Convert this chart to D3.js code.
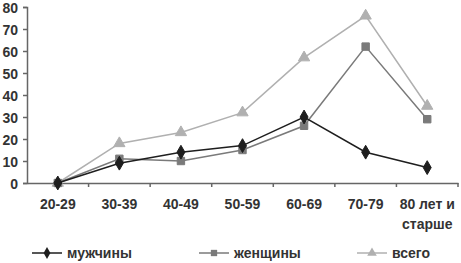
<!DOCTYPE html>
<html lang="ru">
<head>
<meta charset="UTF-8">
<script src="https://d3js.org/d3.v7.min.js"></script>
<style>
  body { margin: 0; background: #fff; }
  text { font-family: "Liberation Sans Narrow", "Arial Narrow", "Liberation Sans", sans-serif; font-weight: bold; fill: #333; }
</style>
</head>
<body>
<svg width="461" height="263"></svg>
<script>
// data
const categories = ["20-29", "30-39", "40-49", "50-59", "60-69", "70-79", "80 лет и|старше"];
const men   = [0, 9, 14, 17, 30, 14, 7];
const women = [0, 11, 10, 15, 26, 62, 29];
const total = [0, 18, 23, 32, 57, 76, 35];
const yTicks = [0, 10, 20, 30, 40, 50, 60, 70, 80];

const series = [
  { name: "мужчины", values: men,   color: "#1e1e1e", symbol: d3.symbolDiamond,  lx: 32 },
  { name: "женщины", values: women, color: "#7a7a7a", symbol: d3.symbolSquare,   lx: 199 },
  { name: "всего",   values: total, color: "#b0b0b0", symbol: d3.symbolTriangle, lx: 357 }
];

const svg = d3.select("svg");
const mLeft = 27, mRight = 458, mTop = 7, mBottom = 183;

const x = d3.scaleBand().domain(categories).range([mLeft, mRight]);
const y = d3.scaleLinear().domain([0, 80]).range([mBottom, mTop]);

// y axis
const yAxis = svg.append("g").attr("transform", `translate(${mLeft},0)`)
  .call(d3.axisLeft(y).tickValues(yTicks).tickSize(4).tickPadding(5));
yAxis.selectAll("text").style("font-size", "14px").attr("fill", "#333").attr("dy", "0.4em");

// x axis
const xAxis = svg.append("g").attr("transform", `translate(0,${mBottom})`)
  .call(d3.axisBottom(x).tickSize(0).tickFormat(""));
xAxis.selectAll(".tick").remove();
xAxis.selectAll("line.b").data(categories).enter().append("line")
  .attr("x1", d => x(d) + x.bandwidth()).attr("x2", d => x(d) + x.bandwidth())
  .attr("y1", 0).attr("y2", 4);
svg.selectAll(".domain, g line").attr("stroke", "#666").attr("stroke-width", 1.5);

const xl = svg.append("g");
categories.forEach(c => {
  const cx = x(c) + x.bandwidth() / 2;
  const t = xl.append("text").attr("text-anchor", "middle").style("font-size", "14px");
  c.split("|").forEach((s, i) => t.append("tspan").attr("x", cx).attr("y", 209 + i * 20).text(s));
});

// lines and markers
const line = d3.line().x((d, i) => x(categories[i]) + x.bandwidth() / 2).y(d => y(d));
series.slice().reverse().forEach(s => {
  svg.append("path").datum(s.values).attr("d", line)
    .attr("fill", "none").attr("stroke", s.color).attr("stroke-width", 1.5);
  svg.selectAll(null).data(s.values).enter().append("path")
    .attr("transform", (d, i) => `translate(${x(categories[i]) + x.bandwidth() / 2},${y(d)})`)
    .attr("d", d3.symbol().type(s.symbol).size(55))
    .attr("fill", s.color).attr("stroke", s.color);
});

// legend
const ly = 253;
series.forEach(s => {
  const g = svg.append("g");
  g.append("line").attr("x1", s.lx).attr("x2", s.lx + 30).attr("y1", ly).attr("y2", ly)
    .attr("stroke", s.color).attr("stroke-width", 1.5);
  g.append("path").attr("transform", `translate(${s.lx + 15},${ly})`)
    .attr("d", d3.symbol().type(s.symbol).size(40)).attr("fill", s.color);
  g.append("text").attr("x", s.lx + 35).attr("y", ly + 5).style("font-size", "14px").text(s.name);
});
</script>
</body>
</html>
